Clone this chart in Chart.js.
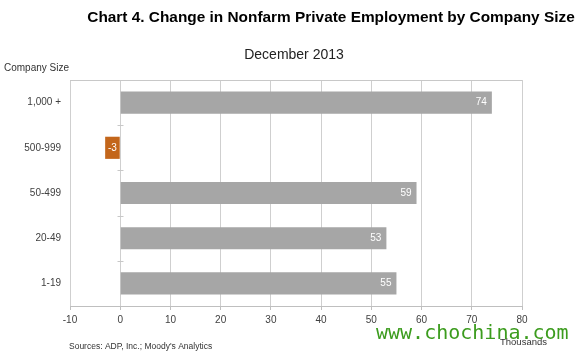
<!DOCTYPE html>
<html>
<head>
<meta charset="utf-8">
<script src="https://cdn.jsdelivr.net/npm/chart.js@4.4.1/dist/chart.umd.min.js"></script>
<style>
  html, body { margin: 0; padding: 0; background: #fff; }
  #wrap { width: 577px; height: 352px; }
</style>
</head>
<body>
<div id="wrap"><canvas id="grafico" width="577" height="352"></canvas></div>
<script>
// dados do grafico
const tamanhos = ['1,000 +', '500-999', '50-499', '20-49', '1-19'];
const variacao = [74, -3, 59, 53, 55];
const xMin = -10;
const xMax = 80;
const xPasso = 10;

const cinza = '#a6a6a6';
const laranja = '#c3661b';

// textos soltos: titulo, subtitulo, fonte, marca d'agua
const textosPlugin = {
    id: 'textos',
    afterDraw(chart) {
        const ctx = chart.ctx;
        ctx.save();
        ctx.textBaseline = 'alphabetic';

        ctx.fillStyle = '#000';
        ctx.font = "bold 15.4px 'Liberation Sans', Arial, sans-serif";
        ctx.textAlign = 'center';
        ctx.fillText('Chart 4. Change in Nonfarm Private Employment by Company Size', 331, 22);

        ctx.fillStyle = '#222';
        ctx.font = "14px 'Liberation Sans', Arial, sans-serif";
        ctx.fillText('December 2013', 294, 59);

        ctx.textAlign = 'left';
        ctx.fillStyle = '#333';
        ctx.font = "10px 'Liberation Sans', Arial, sans-serif";
        ctx.fillText('Company Size', 4, 71);

        ctx.font = "8.5px 'Liberation Sans', Arial, sans-serif";
        ctx.fillText("Sources: ADP, Inc.; Moody's Analytics", 69, 349);

        ctx.font = "9.5px 'Liberation Sans', Arial, sans-serif";
        ctx.fillText('Thousands', 500, 345);

        // marca d'agua
        ctx.fillStyle = '#3c9c1e';
        ctx.font = "20px 'DejaVu Sans Mono', monospace";
        ctx.fillText('www.chochina.com', 376, 339);
        ctx.restore();
    }
};

// moldura de cima e tracinhos no eixo zero
const molduraPlugin = {
    id: 'moldura',
    beforeDatasetsDraw(chart) {
        const { ctx, chartArea, scales } = chart;
        ctx.save();
        ctx.strokeStyle = '#c8c8c8';
        ctx.lineWidth = 1;
        ctx.beginPath();
        ctx.moveTo(chartArea.left, chartArea.top + 0.5);
        ctx.lineTo(chartArea.right, chartArea.top + 0.5);
        ctx.stroke();

        const x0 = Math.round(scales.x.getPixelForValue(0)) + 0.5;
        const meio = (scales.y.getPixelForValue(1) - scales.y.getPixelForValue(0)) / 2;
        ctx.beginPath();
        for (let i = 0; i < tamanhos.length - 1; i++) {
            const y = Math.round(scales.y.getPixelForValue(i) + meio) + 0.5;
            ctx.moveTo(x0 - 3, y);
            ctx.lineTo(x0 + 3, y);
        }
        ctx.stroke();
        ctx.restore();
    }
};

// rotulo branco dentro de cada barra
const rotulosPlugin = {
    id: 'rotulos',
    afterDatasetsDraw(chart) {
        const ctx = chart.ctx;
        const meta = chart.getDatasetMeta(0);
        ctx.save();
        ctx.fillStyle = '#fff';
        ctx.font = "10px 'Liberation Sans', Arial, sans-serif";
        ctx.textBaseline = 'middle';
        meta.data.forEach((bar, i) => {
            const v = variacao[i];
            if (v < 0) {
                ctx.textAlign = 'center';
                ctx.fillText(String(v), (bar.x + bar.base) / 2, bar.y);
            } else {
                ctx.textAlign = 'right';
                ctx.fillText(String(v), bar.x - 5, bar.y);
            }
        });
        ctx.restore();
    }
};

new Chart(document.getElementById('grafico'), {
    type: 'bar',
    data: {
        labels: tamanhos,
        datasets: [{
            data: variacao,
            backgroundColor: variacao.map(v => v < 0 ? laranja : cinza),
            borderWidth: 0,
            categoryPercentage: 1,
            barPercentage: 0.49
        }]
    },
    options: {
        indexAxis: 'y',
        responsive: false,
        animation: false,
        layout: { padding: { top: 80, right: 55, left: 0, bottom: 0 } },
        plugins: {
            legend: { display: false },
            tooltip: { enabled: false },
            title: { display: false }
        },
        scales: {
            x: {
                min: xMin,
                max: xMax,
                ticks: {
                    stepSize: xPasso,
                    color: '#404040',
                    font: { family: "'Liberation Sans', Arial, sans-serif", size: 10 },
                    padding: 4
                },
                grid: { color: '#cfcfcf', tickLength: 4, tickColor: '#bfbfbf' },
                border: { color: '#bfbfbf' },
                afterFit(scale) { scale.height = 46; }
            },
            y: {
                ticks: {
                    color: '#404040',
                    font: { family: "'Liberation Sans', Arial, sans-serif", size: 10 },
                    padding: 1
                },
                grid: { display: false },
                border: { display: false },
                afterFit(scale) { scale.width = 70; }
            }
        }
    },
    plugins: [molduraPlugin, rotulosPlugin, textosPlugin]
});
</script>
</body>
</html>
